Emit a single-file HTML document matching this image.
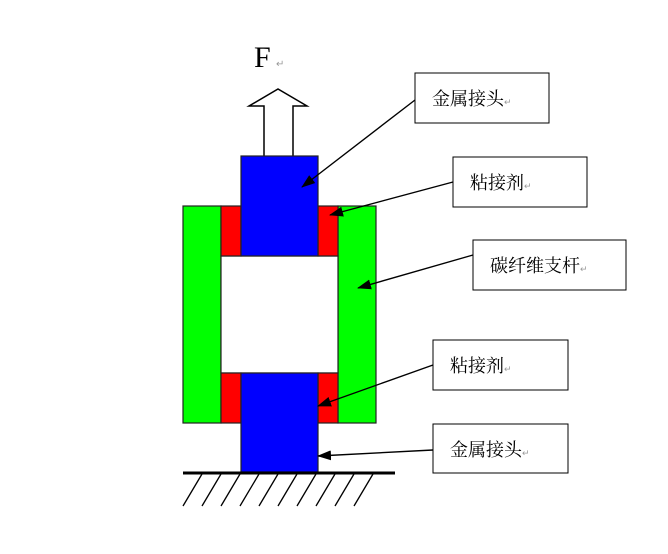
<!DOCTYPE html>
<html><head><meta charset="utf-8"><style>
body{margin:0;background:#fff;width:668px;height:549px;overflow:hidden}
svg text{font-family:"Liberation Serif","Noto Serif CJK SC","Noto Sans CJK SC",serif}
</style></head><body>
<svg width="668" height="549" viewBox="0 0 668 549" xmlns="http://www.w3.org/2000/svg">
<defs><marker id="a" markerWidth="14" markerHeight="10" refX="13" refY="5" orient="auto" markerUnits="userSpaceOnUse"><path d="M0,0 L14,5 L0,10z" fill="#000"/></marker></defs>
<text x="254" y="67" font-size="30">F</text><text x="276" y="67" font-size="10" fill="#999">↵</text>
<path d="M264,156 V106 H249 L278,89 L307,106 H293 V156" fill="#fff" stroke="#000" stroke-width="1.5"/>
<g stroke="#222" stroke-width="1.2">
<rect x="183" y="206" width="38" height="217" fill="#00ff00"/>
<rect x="338" y="206" width="38" height="217" fill="#00ff00"/>
<rect x="221" y="256" width="117" height="117" fill="#fff"/>
<rect x="221" y="206" width="20" height="50" fill="#ff0000"/>
<rect x="318" y="206" width="20" height="50" fill="#ff0000"/>
<rect x="221" y="373" width="20" height="50" fill="#ff0000"/>
<rect x="318" y="373" width="20" height="50" fill="#ff0000"/>
<rect x="241" y="156" width="77" height="100" fill="#0000ff"/>
<rect x="241" y="373" width="77" height="99" fill="#0000ff"/>
</g>
<line x1="183" y1="473" x2="395" y2="473" stroke="#000" stroke-width="3"/>
<g stroke="#000" stroke-width="1.3">
<line x1="202" y1="474" x2="183" y2="506"/><line x1="221" y1="474" x2="202" y2="506"/>
<line x1="240" y1="474" x2="221" y2="506"/><line x1="259" y1="474" x2="240" y2="506"/>
<line x1="278" y1="474" x2="259" y2="506"/><line x1="297" y1="474" x2="278" y2="506"/>
<line x1="316" y1="474" x2="297" y2="506"/><line x1="335" y1="474" x2="316" y2="506"/>
<line x1="354" y1="474" x2="335" y2="506"/><line x1="373" y1="474" x2="354" y2="506"/>
</g>
<g stroke="#000" stroke-width="1.4" marker-end="url(#a)">
<line x1="415" y1="100" x2="302" y2="187"/>
<line x1="453" y1="182" x2="330" y2="215"/>
<line x1="473" y1="255" x2="358" y2="288"/>
<line x1="433" y1="365" x2="318" y2="406"/>
<line x1="433" y1="450" x2="318" y2="456"/>
</g>
<g fill="#fff" stroke="#000" stroke-width="1">
<rect x="415" y="73" width="134" height="50"/>
<rect x="453" y="157" width="134" height="50"/>
<rect x="473" y="240" width="153" height="50"/>
<rect x="433" y="340" width="135" height="50"/>
<rect x="433" y="424" width="135" height="49"/>
</g>
<g font-size="18">
<text x="432" y="105">金属接头<tspan font-size="9" fill="#999">↵</tspan></text>
<text x="470" y="189">粘接剂<tspan font-size="9" fill="#999">↵</tspan></text>
<text x="490" y="272">碳纤维支杆<tspan font-size="9" fill="#999">↵</tspan></text>
<text x="450" y="372">粘接剂<tspan font-size="9" fill="#999">↵</tspan></text>
<text x="450" y="456">金属接头<tspan font-size="9" fill="#999">↵</tspan></text>
</g>
</svg>
</body></html>
